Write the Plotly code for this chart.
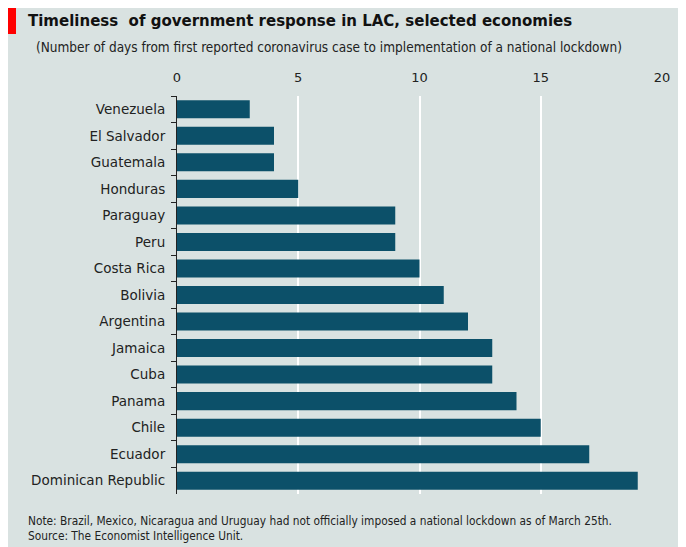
import plotly.graph_objects as go

countries = ["Venezuela", "El Salvador", "Guatemala", "Honduras", "Paraguay", "Peru",
             "Costa Rica", "Bolivia", "Argentina", "Jamaica", "Cuba", "Panama",
             "Chile", "Ecuador", "Dominican Republic"]
days = [3, 4, 4, 5, 9, 9, 10, 11, 12, 13, 13, 14, 15, 17, 19]
x_ticks = [0, 5, 10, 15, 20]

title = "Timeliness  of government response in LAC, selected economies"
subtitle = "(Number of days from first reported coronavirus case to implementation of a national lockdown)"
note = "Note: Brazil, Mexico, Nicaragua and Uruguay had not officially imposed a national lockdown as of March 25th."
source = "Source: The Economist Intelligence Unit."

W, H = 678, 539
L, R, T, B = 169, 24, 88, 53
PW, PH = W - L - R, H - T - B

def px(x):
    return (x - L) / PW

def py(y):
    return (H - B - y) / PH

BG = "#d9e2e1"
BAR = "#0c5069"

fig = go.Figure(go.Bar(
    x=days, y=countries, orientation="h",
    marker=dict(color=BAR, line=dict(width=0)),
))

fig.update_layout(
    width=W, height=H,
    margin=dict(l=L, r=R, t=T, b=B),
    paper_bgcolor=BG, plot_bgcolor=BG,
    bargap=0.32,
    showlegend=False,
    font=dict(family="DejaVu Sans", color="#222222"),
    xaxis=dict(
        side="top", range=[0, 20], tickvals=x_ticks,
        showgrid=True, gridcolor="#ffffff", gridwidth=1.5,
        zeroline=False, showline=False, ticks="",
        tickfont=dict(size=13, color="#222222"),
        ticklabelstandoff=10,
    ),
    yaxis=dict(
        autorange="reversed", showgrid=False, zeroline=False,
        showline=True, linecolor="#222222", linewidth=1.2,
        ticks="outside", tickson="boundaries", ticklen=5, tickcolor="#222222", tickwidth=1.2,
        tickfont=dict(size=13.5, color="#222222"),
        ticklabelstandoff=8,
    ),
    shapes=[
        dict(type="rect", xref="paper", yref="paper", x0=px(0), x1=px(8), y0=py(26), y1=py(0),
             fillcolor="#ff0000", line=dict(width=0), layer="above"),
    ],
    annotations=[
        dict(text="<b>" + title + "</b>", xref="paper", yref="paper", x=px(18), y=py(13),
             xanchor="left", yanchor="middle", showarrow=False,
             font=dict(size=15, family="DejaVu Sans", color="#111111")),
        dict(text=subtitle, xref="paper", yref="paper", x=px(26), y=py(39),
             xanchor="left", yanchor="middle", showarrow=False,
             font=dict(size=13.5, family="DejaVu Sans Condensed", color="#222222")),
        dict(text=note, xref="paper", yref="paper", x=px(18), y=py(513),
             xanchor="left", yanchor="middle", showarrow=False,
             font=dict(size=11.8, family="DejaVu Sans Condensed", color="#222222")),
        dict(text=source, xref="paper", yref="paper", x=px(18), y=py(528),
             xanchor="left", yanchor="middle", showarrow=False,
             font=dict(size=11.8, family="DejaVu Sans Condensed", color="#222222")),
    ],
)

fig.write_html("out.html")
